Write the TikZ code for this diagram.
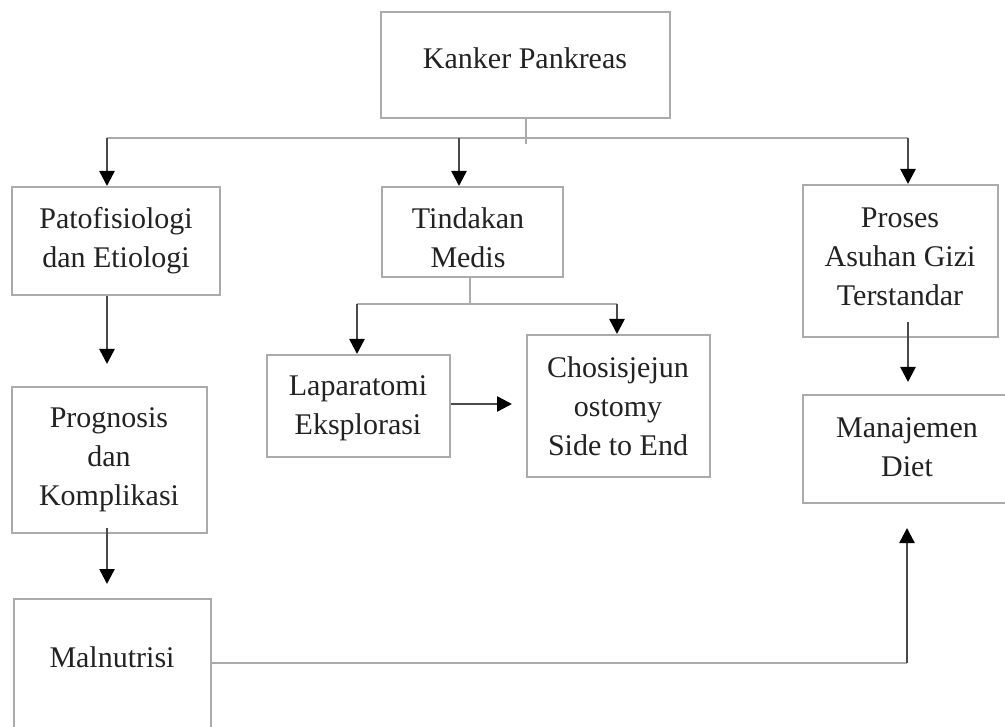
\documentclass[tikz,border=0pt]{standalone}
\usepackage{fontspec}
\setmainfont{Liberation Serif}
\usetikzlibrary{arrows.meta}
\definecolor{boxgray}{HTML}{ABABAB}
\definecolor{arrowgray}{HTML}{4A4A4A}
\definecolor{txtcol}{HTML}{222222}
\tikzset{
  box/.style={draw=boxgray, line width=2pt, rectangle, inner sep=0pt},
  txt/.style={align=center, text=txtcol, inner sep=0pt, font=\fontsize{30}{39}\selectfont},
  gline/.style={draw=boxgray, line width=2pt},
  arr/.style={draw=arrowgray, line width=2.5pt, -{Triangle[length=15pt,width=15pt,black]}},
}
\begin{document}
\begin{tikzpicture}[x=1pt,y=-1pt]
\clip (0,0) rectangle (1005,727);
\fill[white] (0,0) rectangle (1005,727);
% boxes
\node[box, minimum width=289pt, minimum height=106pt] (k) at (525.5,65) {};
\node[box, minimum width=208pt, minimum height=108pt] (p1) at (116,241) {};
\node[box, minimum width=181pt, minimum height=90pt] (t) at (472.5,232) {};
\node[box, minimum width=195pt, minimum height=152pt] (g) at (900.5,261) {};
\node[box, minimum width=195pt, minimum height=146pt] (p2) at (109.5,460) {};
\node[box, minimum width=197pt, minimum height=161pt] (m) at (112.5,679.5) {};
\node[box, minimum width=183pt, minimum height=102pt] (l) at (358.5,406) {};
\node[box, minimum width=183pt, minimum height=142pt] (c) at (618.5,406) {};
\node[box, minimum width=207pt, minimum height=108pt] (d) at (906.5,449) {};
% texts
\node[txt] (kt) at (525,58) {Kanker Pankreas};
\node[txt] (p1t) at (116,241) {Patofisiologi\\dan Etiologi};
\node[txt] (tt) at (468,238) {Tindakan\\Medis};
\node[txt] (gt) at (900,257) {Proses\\Asuhan Gizi\\Terstandar};
\node[txt] (p2t) at (109,460) {Prognosis\\dan\\Komplikasi};
\node[txt] (mt) at (112,657) {Malnutrisi};
\node[txt] (lt) at (358,408) {Laparatomi\\Eksplorasi};
\node[txt] (ct) at (618,406) {Chosisjejun\\ostomy\\Side to End};
\node[txt] (dt) at (907,447) {Manajemen\\Diet};
% top bus
\coordinate (b1) at (107,138);
\coordinate (b2) at (459,138);
\coordinate (b3) at (908,138);
\draw[gline] (k.south) -- ++(0,25);
\draw[gline] (b1) -- (b3);
\draw[arr] (b1) -- (b1 |- p1.north);
\draw[arr] (b2) -- (b2 |- t.north);
\draw[arr] (b3) -- (b3 |- g.north);
% left column
\draw[arr, shorten >=22pt] (p1.south -| b1) -- (b1 |- p2.north);
\draw[arr, shorten >=14pt] ([yshift=6pt]p2.south -| b1) -- (b1 |- m.north);
% Tindakan branch
\coordinate (t1) at (357,304);
\coordinate (t2) at (617,304);
\draw[gline] (t.south -| 470,0) -- (470,304);
\draw[gline] (t1) -- (t2);
\draw[arr] (t1) -- (t1 |- l.north);
\draw[arr] (t2) -- (t2 |- c.north);
\draw[arr, shorten >=14pt] (l.east |- 0,404) -- (c.west |- 0,404);
% right column
\draw[arr, shorten >=12pt] ([yshift=16pt]g.south -| b3) -- (b3 |- d.north);
% malnutrisi to diet
\coordinate (mr) at (m.east |- 0,663);
\coordinate (mc) at (907,663);
\draw[gline] (mr) -- (mc);
\draw[arr, shorten >=24pt] (mc) -- (mc |- d.south);
\end{tikzpicture}
\end{document}
